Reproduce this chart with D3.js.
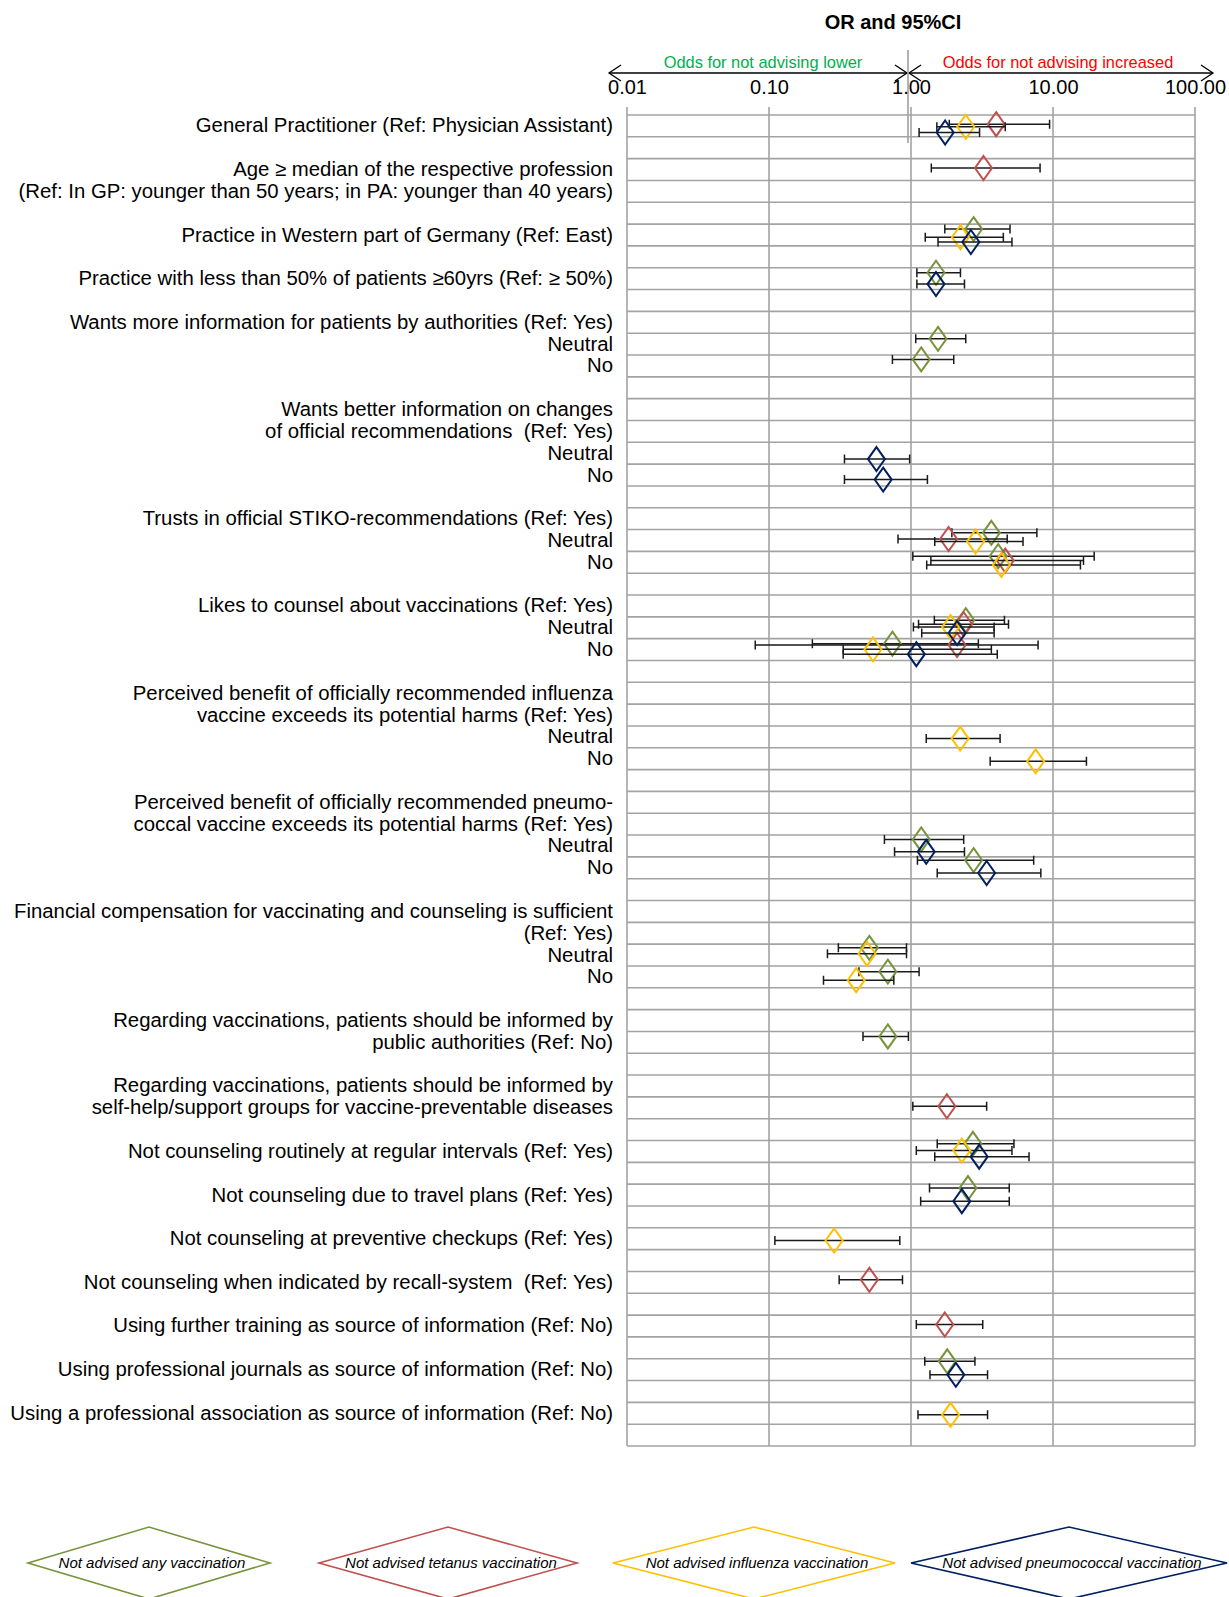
<!DOCTYPE html>
<html>
<head>
<meta charset="utf-8">
<script src="https://cdn.jsdelivr.net/npm/d3@7"></script>
<style>
  body { margin: 0; background: #fff; }
  svg { display: block; font-family: "Liberation Sans", Arial, Helvetica, sans-serif; }
</style>
</head>
<body>
<div id="chart"></div>
<script>
// one entry per row band of the grid ('' = empty band)
const rowLabels = [
  'General Practitioner (Ref: Physician Assistant)',
  '',
  'Age \u2265 median of the respective profession',
  '(Ref: In GP: younger than 50 years; in PA: younger than 40 years)',
  '',
  'Practice in Western part of Germany (Ref: East)',
  '',
  'Practice with less than 50% of patients \u226560yrs (Ref: \u2265 50%)',
  '',
  'Wants more information for patients by authorities (Ref: Yes)',
  'Neutral',
  'No',
  '',
  'Wants better information on changes',
  'of official recommendations  (Ref: Yes)',
  'Neutral',
  'No',
  '',
  'Trusts in official STIKO-recommendations (Ref: Yes)',
  'Neutral',
  'No',
  '',
  'Likes to counsel about vaccinations (Ref: Yes)',
  'Neutral',
  'No',
  '',
  'Perceived benefit of officially recommended influenza',
  'vaccine exceeds its potential harms (Ref: Yes)',
  'Neutral',
  'No',
  '',
  'Perceived benefit of officially recommended pneumo-',
  'coccal vaccine exceeds its potential harms (Ref: Yes)',
  'Neutral',
  'No',
  '',
  'Financial compensation for vaccinating and counseling is sufficient',
  '(Ref: Yes)',
  'Neutral',
  'No',
  '',
  'Regarding vaccinations, patients should be informed by',
  'public authorities (Ref: No)',
  '',
  'Regarding vaccinations, patients should be informed by',
  'self-help/support groups for vaccine-preventable diseases',
  '',
  'Not counseling routinely at regular intervals (Ref: Yes)',
  '',
  'Not counseling due to travel plans (Ref: Yes)',
  '',
  'Not counseling at preventive checkups (Ref: Yes)',
  '',
  'Not counseling when indicated by recall-system  (Ref: Yes)',
  '',
  'Using further training as source of information (Ref: No)',
  '',
  'Using professional journals as source of information (Ref: No)',
  '',
  'Using a professional association as source of information (Ref: No)',
  ''
];

const tickValues = [0.01, 0.1, 1, 10, 100];
const tickLabels = ['0.01', '0.10', '1.00', '10.00', '100.00'];

const seriesNames = [
  'Not advised any vaccination',
  'Not advised tetanus vaccination',
  'Not advised influenza vaccination',
  'Not advised pneumococcal vaccination'
];
const seriesColors = ['#77933c', '#c0504d', '#ffc000', '#002060'];

// [row (band index), OR, lower 95%CI, upper 95%CI]
const anyVaccination = [
  [5.23, 2.76, 1.73, 4.98],
  [7.23, 1.50, 1.10, 2.23],
  [10.26, 1.55, 1.08, 2.43],
  [11.2, 1.18, 0.74, 2.00],
  [19.15, 3.68, 1.94, 7.70],
  [20.22, 4.11, 1.03, 19.5],
  [23.15, 2.43, 1.46, 4.55],
  [24.23, 0.74, 0.202, 2.98],
  [33.2, 1.18, 0.65, 2.35],
  [34.15, 2.76, 1.11, 7.31],
  [38.17, 0.509, 0.308, 0.93],
  [39.26, 0.687, 0.43, 1.14],
  [42.23, 0.687, 0.459, 0.959],
  [47.15, 2.73, 1.53, 5.31],
  [49.18, 2.52, 1.35, 4.92],
  [57.12, 1.80, 1.25, 2.82]
];
const tetanus = [
  [0.42, 3.98, 1.86, 9.46],
  [2.43, 3.24, 1.39, 8.11],
  [19.43, 1.84, 0.81, 4.76],
  [20.42, 4.61, 1.38, 16.4],
  [23.34, 2.35, 1.13, 4.86],
  [24.29, 2.11, 0.080, 7.85],
  [45.43, 1.79, 1.03, 3.41],
  [53.38, 0.509, 0.312, 0.871],
  [55.43, 1.73, 1.09, 3.20]
];
const influenza = [
  [0.54, 2.43, 1.52, 4.61],
  [5.6, 2.23, 1.26, 4.47],
  [19.55, 2.85, 1.47, 6.15],
  [20.62, 4.33, 1.29, 15.6],
  [23.47, 1.90, 1.04, 3.85],
  [24.49, 0.54, 0.333, 3.68],
  [28.58, 2.22, 1.28, 4.24],
  [29.62, 7.55, 3.61, 17.2],
  [38.44, 0.49, 0.258, 0.93],
  [39.65, 0.411, 0.242, 0.757],
  [47.46, 2.28, 1.09, 5.14],
  [51.58, 0.2875, 0.11, 0.834],
  [59.57, 1.90, 1.12, 3.46]
];
const pneumococcal = [
  [0.8, 1.74, 1.14, 3.04],
  [5.82, 2.64, 1.55, 5.14],
  [7.75, 1.50, 1.10, 2.38],
  [15.77, 0.571, 0.34, 0.978],
  [16.71, 0.637, 0.34, 1.305],
  [23.74, 2.11, 1.19, 3.85],
  [24.71, 1.09, 0.333, 4.05],
  [33.77, 1.28, 0.766, 2.38],
  [34.74, 3.41, 1.53, 8.21],
  [47.74, 3.02, 1.47, 6.78],
  [49.78, 2.28, 1.17, 4.92],
  [57.74, 2.07, 1.36, 3.46]
];
const seriesData = [anyVaccination, tetanus, influenza, pneumococcal];

const W = 1229, H = 1597;
const svg = d3.select('#chart').append('svg')
  .attr('width', W).attr('height', H);
svg.append('rect').attr('width', W).attr('height', H).attr('fill', '#fff');

const x = d3.scaleLog().domain([0.01, 100]).range([627, 1195]);
const y = d3.scaleLinear().domain([0, rowLabels.length]).range([115, 1446]);
const gridColor = '#a3a3a3';

// title + direction arrows
svg.append('text')
  .attr('x', 893).attr('y', 29)
  .attr('text-anchor', 'middle')
  .attr('font-size', '20px').attr('font-weight', 'bold')
  .text('OR and 95%CI');

svg.append('text')
  .attr('x', 763).attr('y', 67.5)
  .attr('text-anchor', 'middle').attr('font-size', '16.4px')
  .attr('fill', '#00b050')
  .text('Odds for not advising lower');
svg.append('text')
  .attr('x', 1058).attr('y', 67.5)
  .attr('text-anchor', 'middle').attr('font-size', '16.4px')
  .attr('fill', '#ff0000')
  .text('Odds for not advising increased');

const arrowY = 73;
const arrows = svg.append('g').attr('fill', 'none').attr('stroke', '#000').attr('stroke-width', 1.3);
function arrow(x1, x2) {
  arrows.append('line').attr('x1', x1).attr('x2', x2).attr('y1', arrowY).attr('y2', arrowY);
  arrows.append('path').attr('d', `M${x1 + 12},${arrowY - 8}L${x1},${arrowY}L${x1 + 12},${arrowY + 8}`);
  arrows.append('path').attr('d', `M${x2 - 12},${arrowY - 8}L${x2},${arrowY}L${x2 - 12},${arrowY + 8}`);
}
arrow(609, 907);
arrow(909, 1213);

svg.append('line')
  .attr('x1', 908).attr('x2', 908).attr('y1', 50).attr('y2', 143)
  .attr('stroke', '#999').attr('stroke-width', 1.5);

// axis labels
const axis = d3.axisTop(x)
  .tickValues(tickValues)
  .tickFormat((d, i) => tickLabels[i])
  .tickSize(0).tickPadding(0);
const axisG = svg.append('g').attr('transform', 'translate(0,94)').call(axis);
axisG.select('.domain').remove();
axisG.selectAll('text')
  .attr('font-size', '20px')
  .attr('font-family', '"Liberation Sans", Arial, sans-serif')
  .attr('fill', '#000');

// grid
const grid = svg.append('g').attr('stroke', gridColor).attr('stroke-width', 1.6);
grid.selectAll('.v').data(tickValues).join('line')
  .attr('x1', d => x(d)).attr('x2', d => x(d))
  .attr('y1', 107).attr('y2', y(rowLabels.length));
grid.selectAll('.h').data(d3.range(rowLabels.length + 1)).join('line')
  .attr('x1', x(0.01)).attr('x2', x(100))
  .attr('y1', d => y(d)).attr('y2', d => y(d));

// row labels
svg.append('g').selectAll('text').data(rowLabels).join('text')
  .attr('x', 613)
  .attr('y', (d, i) => y(i + 0.5) + 6.5)
  .attr('text-anchor', 'end')
  .attr('font-size', '20.35px')
  .style('white-space', 'pre')
  .text(d => d);

// error bars and diamonds
const cap = 4.5;
seriesData.forEach((rows, s) => {
  const g = svg.append('g');
  const bars = g.append('g').attr('stroke', '#1a1a1a').attr('stroke-width', 1.5).attr('fill', 'none');
  rows.forEach(([r, or, lo, hi]) => {
    const yy = y(r);
    bars.append('path').attr('d',
      `M${x(lo)},${yy}H${x(hi)}` +
      `M${x(lo)},${yy - cap}V${yy + cap}` +
      `M${x(hi)},${yy - cap}V${yy + cap}`);
  });
  g.append('g').selectAll('path').data(rows).join('path')
    .attr('d', ([r, or]) => {
      const cx = x(or), cy = y(r);
      return `M${cx},${cy - 12}L${cx + 8.5},${cy}L${cx},${cy + 12}L${cx - 8.5},${cy}Z`;
    })
    .attr('fill', 'none')
    .attr('stroke', seriesColors[s])
    .attr('stroke-width', 2);
});

// legend
const legendCenters = [149, 448, 754, 1069];
const legendHalfWidths = [121, 129, 141, 158];
const legendY = 1563;
seriesNames.forEach((name, i) => {
  const g = svg.append('g');
  const cx = legendCenters[i], hw = legendHalfWidths[i];
  g.append('path')
    .attr('d', `M${cx - hw},${legendY}L${cx},${legendY - 36}L${cx + hw},${legendY}L${cx},${legendY + 36}Z`)
    .attr('fill', 'none')
    .attr('stroke', seriesColors[i])
    .attr('stroke-width', 1.6);
  g.append('text')
    .attr('x', cx + 3).attr('y', legendY + 5)
    .attr('text-anchor', 'middle')
    .attr('font-size', '15px').attr('font-style', 'italic')
    .text(name);
});
</script>
</body>
</html>
